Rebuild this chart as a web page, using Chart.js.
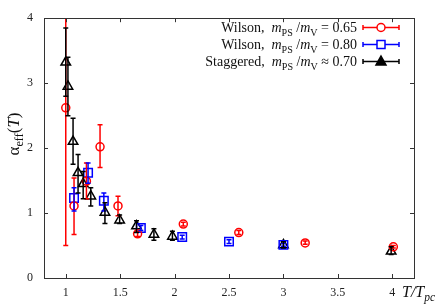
<!DOCTYPE html>
<html>
<head>
<script src="https://cdn.jsdelivr.net/npm/chart.js@4/dist/chart.umd.min.js"></script>
<style>
body { margin:0; background:#fff; }
#wrap { width:436px; height:305px; }
</style>
</head>
<body>
<div id="wrap"><canvas id="myChart"></canvas></div>
<script>
// Wilson, mPS/mV = 0.65
var redX  = [1.0, 1.076, 1.19, 1.315, 1.48, 1.66, 2.08, 2.59, 3.20, 4.01];
var redY  = [2.62, 1.11, 1.49, 2.02, 1.11, 0.68, 0.83, 0.70, 0.54, 0.48];
var redLo = [0.5, 0.67, 1.22, 1.70, 0.96, 0.64, 0.80, 0.67, 0.52, 0.46];
var redHi = [4.5, 1.54, 1.77, 2.36, 1.26, 0.72, 0.86, 0.73, 0.57, 0.50];
// Wilson, mPS/mV = 0.80
var blueX  = [1.076, 1.205, 1.35, 1.69, 2.07, 2.50, 3.00];
var blueY  = [1.23, 1.62, 1.19, 0.77, 0.63, 0.56, 0.51];
var blueLo = [1.03, 1.46, 1.03, 0.73, 0.60, 0.53, 0.49];
var blueHi = [1.39, 1.77, 1.31, 0.81, 0.66, 0.59, 0.53];
// Staggered, mPS/mV ~ 0.70
var blackX  = [1.0, 1.02, 1.067, 1.113, 1.16, 1.23, 1.36, 1.495, 1.65, 1.81, 1.98, 3.0, 3.99];
var blackY  = [3.32, 2.95, 2.10, 1.62, 1.45, 1.26, 1.01, 0.89, 0.80, 0.67, 0.64, 0.51, 0.41];
var blackLo = [2.8, 2.5, 1.75, 1.31, 1.22, 1.11, 0.84, 0.84, 0.70, 0.58, 0.58, 0.46, 0.36];
var blackHi = [3.85, 3.4, 2.46, 1.90, 1.64, 1.39, 1.16, 0.97, 0.88, 0.76, 0.72, 0.56, 0.48];

var xTicks = [1, 1.5, 2, 2.5, 3, 3.5, 4];
var yTicks = [0, 1, 2, 3, 4];
var legendLabels = ['0.65', '0.80', '0.70'];

var SERIF = '"Liberation Serif", "DejaVu Serif", serif';

function pts(xs, ys, lo, hi) {
  var out = [];
  for (var i = 0; i < xs.length; i++) out.push({x: xs[i], y: ys[i], lo: lo[i], hi: hi[i]});
  return out;
}

// draw a run of text pieces, each {t, it, sub}
function richWidth(ctx, parts, size) {
  var w = 0;
  parts.forEach(function (p) {
    var s = p.sub ? size * 0.72 : size;
    ctx.font = (p.it ? 'italic ' : '') + s + 'px ' + SERIF;
    w += ctx.measureText(p.t).width;
  });
  return w;
}
function richText(ctx, parts, x, y, size) {
  ctx.textBaseline = 'alphabetic';
  ctx.textAlign = 'left';
  parts.forEach(function (p) {
    var s = p.sub ? size * 0.72 : size;
    ctx.font = (p.it ? 'italic ' : '') + s + 'px ' + SERIF;
    ctx.fillText(p.t, x, p.sub ? y + size * 0.25 : y);
    x += ctx.measureText(p.t).width;
  });
}

var errorBars = {
  id: 'errorBars',
  afterDatasetsDraw: function (chart) {
    var ctx = chart.ctx, a = chart.chartArea;
    var xs = chart.scales.x, ys = chart.scales.y;
    ctx.save();
    ctx.beginPath();
    ctx.rect(a.left, a.top, a.right - a.left, a.bottom - a.top);
    ctx.clip();
    chart.data.datasets.forEach(function (ds) {
      ctx.strokeStyle = ds.borderColor;
      ctx.lineWidth = 1.5;
      ds.data.forEach(function (p) {
        var px = xs.getPixelForValue(p.x);
        var y1 = ys.getPixelForValue(p.lo), y2 = ys.getPixelForValue(p.hi);
        ctx.beginPath();
        ctx.moveTo(px, y1); ctx.lineTo(px, y2);
        ctx.moveTo(px - 2.5, y1); ctx.lineTo(px + 2.5, y1);
        ctx.moveTo(px - 2.5, y2); ctx.lineTo(px + 2.5, y2);
        ctx.stroke();
      });
    });
    ctx.restore();
  }
};

var frame = {
  id: 'frame',
  afterDraw: function (chart) {
    var ctx = chart.ctx, a = chart.chartArea;
    var xs = chart.scales.x, ys = chart.scales.y;
    ctx.save();
    ctx.strokeStyle = '#333';
    ctx.lineWidth = 1;
    ctx.strokeRect(Math.round(a.left) + 0.5, Math.round(a.top) + 0.5, Math.round(a.right - a.left), Math.round(a.bottom - a.top));
    ctx.beginPath();
    xTicks.forEach(function (v) {
      var px = Math.round(xs.getPixelForValue(v)) + 0.5;
      ctx.moveTo(px, a.bottom); ctx.lineTo(px, a.bottom - 4);
      ctx.moveTo(px, a.top); ctx.lineTo(px, a.top + 4);
    });
    yTicks.forEach(function (v) {
      var py = Math.round(ys.getPixelForValue(v)) + 0.5;
      ctx.moveTo(a.left, py); ctx.lineTo(a.left + 4, py);
      ctx.moveTo(a.right, py); ctx.lineTo(a.right - 4, py);
    });
    ctx.stroke();

    // legend
    var rows = [
      {name: 'Wilson,  ', rel: ' = ', color: '#ff0000', style: 'circle'},
      {name: 'Wilson,  ', rel: ' = ', color: '#0000ff', style: 'rect'},
      {name: 'Staggered,  ', rel: ' \u2248 ', color: '#000000', style: 'triangle'}
    ];
    rows.forEach(function (r, i) {
      var y = 32 + i * 17;
      var parts = [
        {t: r.name}, {t: 'm', it: true}, {t: 'PS', sub: true}, {t: ' /'},
        {t: 'm', it: true}, {t: 'V', sub: true}, {t: r.rel + legendLabels[i]}
      ];
      ctx.fillStyle = '#111';
      var w = richWidth(ctx, parts, 14);
      richText(ctx, parts, 357 - w, y, 14);
      var ly = y - 4.5;
      ctx.strokeStyle = r.color;
      ctx.lineWidth = 1.5;
      ctx.beginPath();
      ctx.moveTo(363, ly); ctx.lineTo(399, ly);
      ctx.moveTo(363, ly - 2.5); ctx.lineTo(363, ly + 2.5);
      ctx.moveTo(399, ly - 2.5); ctx.lineTo(399, ly + 2.5);
      ctx.stroke();
      if (r.style === 'circle') {
        ctx.beginPath(); ctx.arc(381, ly, 4, 0, Math.PI * 2); ctx.fillStyle = '#fff'; ctx.fill(); ctx.stroke();
      } else if (r.style === 'rect') {
        ctx.fillStyle = '#fff'; ctx.fillRect(377, ly - 4, 8, 8); ctx.strokeRect(377, ly - 4, 8, 8);
      } else {
        ctx.beginPath(); ctx.moveTo(381, ly - 5.5); ctx.lineTo(386, ly + 3.5); ctx.lineTo(376, ly + 3.5); ctx.closePath();
        ctx.fillStyle = '#000'; ctx.fill(); ctx.stroke();
      }
    });

    // axis titles
    ctx.fillStyle = '#111';
    ctx.save();
    ctx.translate(19, 134);
    ctx.rotate(-Math.PI / 2);
    var yt = [{t: '\u03b1'}, {t: 'eff', sub: true}, {t: '('}, {t: 'T', it: true}, {t: ')'}];
    var yw = richWidth(ctx, yt, 17);
    richText(ctx, yt, -yw / 2, 0, 17);
    ctx.restore();
    var xt = [{t: 'T/T', it: true}, {t: 'pc', it: true, sub: true}];
    richText(ctx, xt, 402, 297, 16);
    ctx.restore();
  }
};

var ctx = document.getElementById('myChart').getContext('2d');
var chart = new Chart(ctx, {
  type: 'scatter',
  data: {
    datasets: [
      {data: pts(redX, redY, redLo, redHi), borderColor: '#ff0000', backgroundColor: 'rgba(0,0,0,0)',
       pointStyle: 'circle', pointRadius: 4, borderWidth: 1.5},
      {data: pts(blueX, blueY, blueLo, blueHi), borderColor: '#0000ff', backgroundColor: 'rgba(0,0,0,0)',
       pointStyle: 'rect', pointRadius: 6, borderWidth: 1.5},
      {data: pts(blackX, blackY, blackLo, blackHi), borderColor: '#000000', backgroundColor: 'rgba(0,0,0,0)',
       pointStyle: 'triangle', pointRadius: 5.5, borderWidth: 1.5}
    ]
  },
  options: {
    responsive: true,
    maintainAspectRatio: false,
    animation: false,
    layout: { padding: { top: 15, right: 22, bottom: 0, left: 0 } },
    plugins: { legend: { display: false }, tooltip: { enabled: false } },
    scales: {
      x: {
        min: 0.8, max: 4.2,
        afterBuildTicks: function (s) { s.ticks = xTicks.map(function (v) { return {value: v}; }); },
        afterFit: function (s) { s.height = 27; },
        grid: { display: false, drawTicks: false },
        border: { display: false },
        ticks: { color: '#222', padding: 8, maxRotation: 0, autoSkip: false,
                 font: { family: SERIF, size: 12 },
                 callback: function (v) { return String(v); } }
      },
      y: {
        min: 0, max: 4,
        afterBuildTicks: function (s) { s.ticks = yTicks.map(function (v) { return {value: v}; }); },
        afterFit: function (s) { s.width = 44; },
        grid: { display: false, drawTicks: false },
        border: { display: false },
        ticks: { color: '#222', padding: 11, font: { family: SERIF, size: 12 },
                 callback: function (v) { return String(v); } }
      }
    }
  },
  plugins: [errorBars, frame]
});
</script>
</body>
</html>
